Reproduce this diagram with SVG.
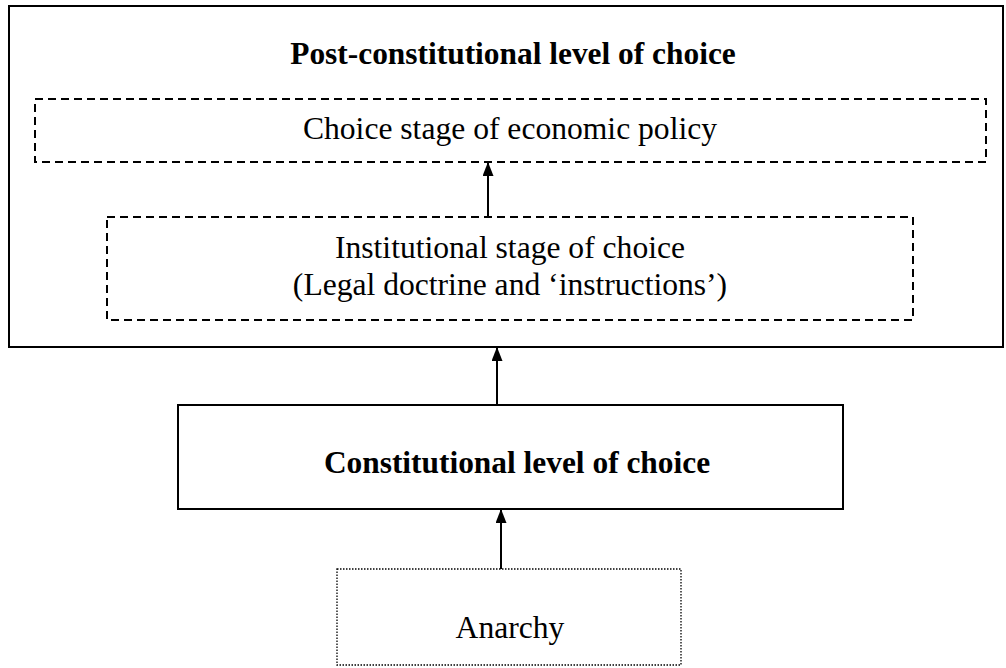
<svg xmlns="http://www.w3.org/2000/svg" width="1006" height="668" viewBox="0 0 1006 668">
<style>
.t{font-family:"Liberation Serif","Times New Roman",serif;font-size:31.6px;fill:#000;text-anchor:middle}
.b{font-weight:bold;font-size:31.4px}
.solid{fill:none;stroke:#000;stroke-width:2}
.dash{fill:none;stroke:#000;stroke-width:2;stroke-dasharray:8 5}
.dot{fill:none;stroke:#000;stroke-width:1.3;stroke-dasharray:1.5 1.5}
.c{stroke:#000;stroke-width:2;fill:none}
</style>
<defs>
<marker id="ah" markerWidth="14" markerHeight="11" refX="13" refY="5.5" orient="auto" markerUnits="userSpaceOnUse" viewBox="0 0 14 11">
<path d="M0,0 L14,5.5 L0,11 Z" fill="#000"/>
</marker>
</defs>
<rect width="1006" height="668" fill="#fff"/>
<g id="post">
<rect class="solid" x="9" y="6" width="994" height="341"/>
<text class="t b" x="513" y="64">Post-constitutional level of choice</text>
</g>
<g id="choice">
<rect class="dash" x="35" y="99" width="951" height="63"/>
<text class="t" x="510" y="139">Choice stage of economic policy</text>
</g>
<g id="institutional">
<rect class="dash" x="107" y="217" width="806" height="103"/>
<text class="t" x="510" y="258">Institutional stage of choice</text>
<text class="t" x="510" y="295">(Legal doctrine and ‘instructions’)</text>
</g>
<g id="constitutional">
<rect class="solid" x="178" y="405" width="665" height="104"/>
<text class="t b" x="517" y="473">Constitutional level of choice</text>
</g>
<g id="anarchy">
<rect class="dot" x="337" y="569" width="344" height="96"/>
<text class="t" x="510" y="638">Anarchy</text>
</g>
<g id="connectors">
<line class="c" x1="488" y1="217" x2="488" y2="163" marker-end="url(#ah)"/>
<line class="c" x1="497" y1="405" x2="497" y2="348" marker-end="url(#ah)"/>
<line class="c" x1="501" y1="569" x2="501" y2="510" marker-end="url(#ah)"/>
</g>
</svg>
